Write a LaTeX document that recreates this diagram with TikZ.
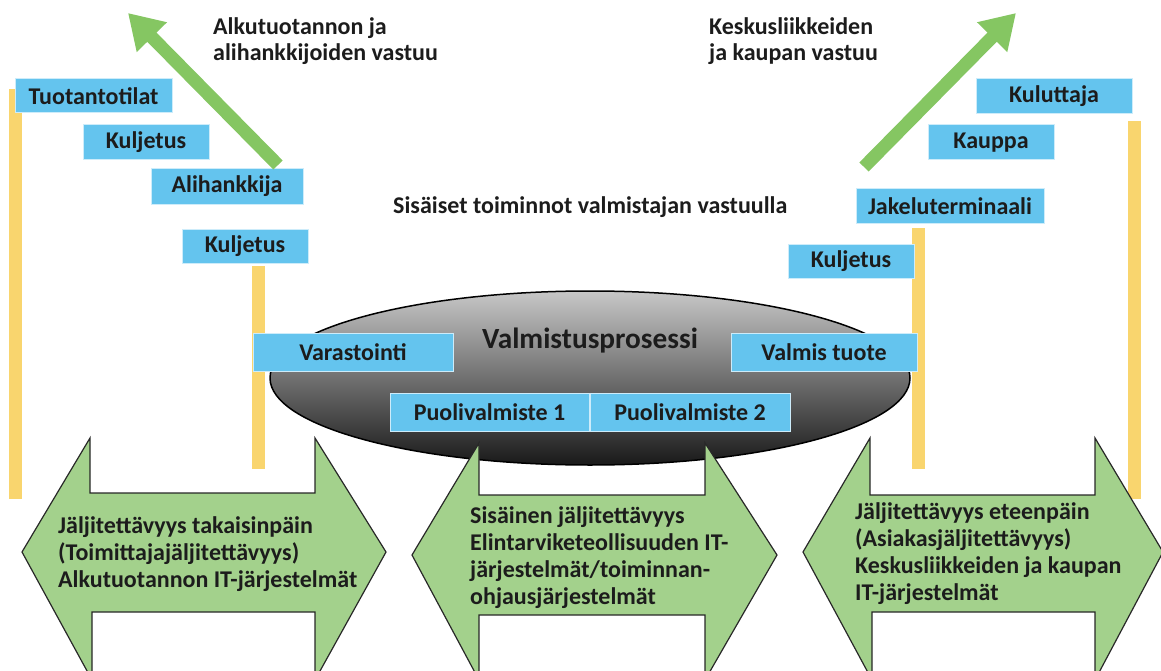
\documentclass[tikz,border=0pt]{standalone}
\usepackage{fontspec}
\setmainfont{Carlito}
\usetikzlibrary{arrows.meta,shapes.geometric}
\definecolor{boxblue}{RGB}{100,196,238}
\definecolor{boxedge}{RGB}{205,236,250}
\definecolor{baryellow}{RGB}{249,213,110}
\definecolor{leafgreen}{RGB}{133,198,98}
\definecolor{palegreen}{RGB}{163,209,140}
\definecolor{outline}{RGB}{40,40,40}
\definecolor{txt}{RGB}{28,28,28}
\begin{document}
\begin{tikzpicture}[x=1pt,y=-1pt,
  lbl/.style={font=\fontsize{24}{26.7}\selectfont\bfseries, text=txt, inner sep=0pt},
  bluebox/.style={draw=boxedge, line width=1pt, fill=boxblue, inner sep=0pt,
    text=txt, font=\fontsize{24}{26.7}\selectfont\bfseries},
  bar/.style={fill=baryellow},
  bigarrow/.style={fill=palegreen, draw=outline, line width=1.2pt, line join=miter},
  respons/.style={draw=leafgreen, line width=13pt,
    -{Triangle[width=40pt,length=34pt]}}]
\useasboundingbox (0,0) rectangle (1161,671);

% yellow chain bars
\fill[bar] (9,89) rectangle (22,499);
\fill[bar] (252,266) rectangle (265,469);
\fill[bar] (912,228) rectangle (925,469);
\fill[bar] (1128,121) rectangle (1141,499);

% manufacturing process
\node[ellipse, draw=black, line width=1.5pt, top color=black!22, bottom color=black!90,
  minimum width=640pt, minimum height=174pt, inner sep=0pt] (proc) at (590,378) {};
\node[font=\fontsize{29.3}{32}\selectfont\bfseries, text=txt, inner sep=0pt, anchor=base]
  (proctitle) at (590,348) {Valmistusprosessi};

% supply chain steps
\node[bluebox, minimum width=157pt, minimum height=34pt] (tuot) at (93.5,96) {Tuotantotilat};
\node[bluebox, minimum width=126pt, minimum height=35pt] (kulj1) at (146,142.5) {Kuljetus};
\node[bluebox, minimum width=152pt, minimum height=35pt] (alih) at (227,186.5) {Alihankkija};
\node[bluebox, minimum width=126pt, minimum height=34pt] (kulj2) at (245,246) {Kuljetus};
\node[bluebox, minimum width=200pt, minimum height=38pt] (vara) at (353,352) {Varastointi};
\node[bluebox, minimum width=199pt, minimum height=38pt] (puo1) at (489.5,412) {Puolivalmiste 1};
\node[bluebox, minimum width=200pt, minimum height=38pt] (puo2) at (690,412) {Puolivalmiste 2};
\node[bluebox, minimum width=186pt, minimum height=38pt] (valm) at (824,352) {Valmis tuote};
\node[bluebox, minimum width=126pt, minimum height=34pt] (kulj3) at (851,261) {Kuljetus};
\node[bluebox, minimum width=188pt, minimum height=34pt] (jake) at (950,206) {Jakeluterminaali};
\node[bluebox, minimum width=126pt, minimum height=35pt] (kaup) at (991,142.5) {Kauppa};
\node[bluebox, minimum width=156pt, minimum height=35pt] (kulu) at (1054,96.5) {Kuluttaja};

% responsibility arrows
\coordinate (upstail) at (278,165);
\coordinate (upstip) at (128,13);
\coordinate (downtail) at (864,167);
\coordinate (downtip) at (1016,13);
\draw[respons] (upstail) -- (upstip);
\draw[respons] (downtail) -- (downtip);

% multi-line labels: base anchor sits on the last line
\node[lbl, align=left, anchor=base west] (upstext) at (213,61)
  {Alkutuotannon ja\\alihankkijoiden vastuu};
\node[lbl, align=left, anchor=base west] (downtext) at (709,61)
  {Keskusliikkeiden\\ja kaupan vastuu};
\node[lbl, anchor=base west] (inner) at (393,213) {Sisäiset toiminnot valmistajan vastuulla};

% traceability double arrows
\draw[bigarrow] (22,552) -- (90,438) -- (90,493) -- (315,493) -- (315,438) -- (386,552)
  -- (315,680) -- (315,612) -- (92,612) -- (92,680) -- cycle;
\draw[bigarrow] (412,555) -- (479,443) -- (479,495) -- (705,495) -- (705,443) -- (777,555)
  -- (705,680) -- (705,615) -- (479,615) -- (479,680) -- cycle;
\draw[bigarrow] (803,552) -- (870,438) -- (870,495) -- (1095,495) -- (1095,438) -- (1163,552)
  -- (1095,680) -- (1095,612) -- (872,612) -- (872,680) -- cycle;

\node[lbl, align=left, anchor=base west] (backtext) at (58,587)
  {Jäljitettävyys takaisinpäin\\(Toimittajajäljitettävyys)\\Alkutuotannon IT-järjestelmät};
\node[lbl, align=left, anchor=base west] (intext) at (470,604)
  {Sisäinen jäljitettävyys\\Elintarviketeollisuuden IT-\\järjestelmät/toiminnan-\\ohjausjärjestelmät};
\node[lbl, align=left, anchor=base west] (fwdtext) at (855,600)
  {Jäljitettävyys eteenpäin\\(Asiakasjäljitettävyys)\\Keskusliikkeiden ja kaupan\\IT-järjestelmät};
\end{tikzpicture}
\end{document}
